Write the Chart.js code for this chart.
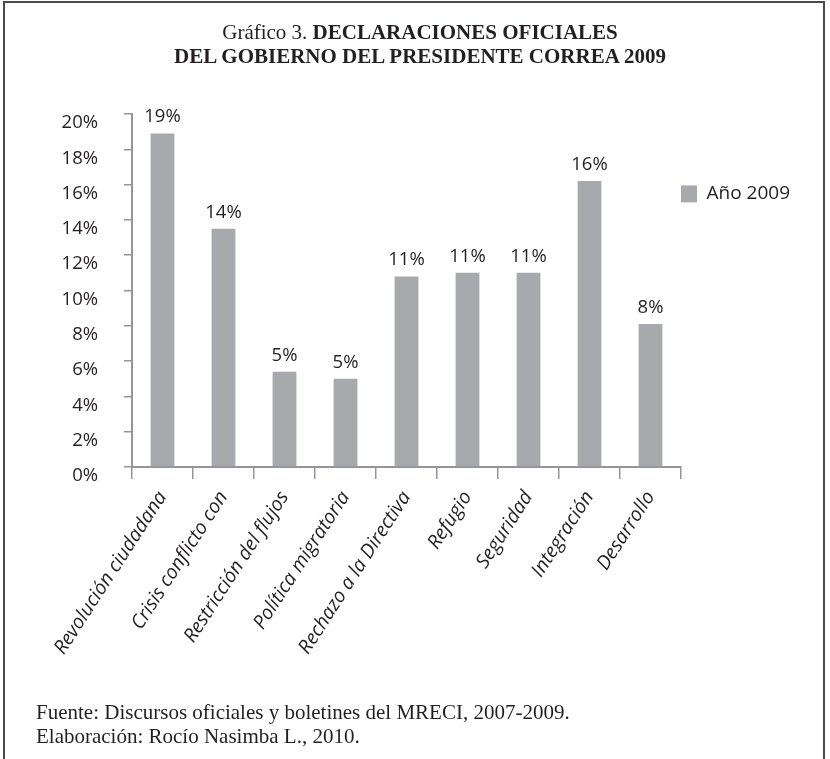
<!DOCTYPE html>
<html>
<head>
<meta charset="utf-8">
<script src="https://cdn.jsdelivr.net/npm/chart.js@4.4.1/dist/chart.umd.min.js"></script>
<style>
  html, body { margin: 0; padding: 0; background: #fff; }
  #wrap { position: relative; width: 830px; height: 759px; overflow: hidden; }
  #frame { position: absolute; left: 3px; top: 1px; width: 822px; height: 800px; border: 2px solid #4a4a4a; box-sizing: border-box; }
  #title { position: absolute; left: 10px; width: 820px; top: 20px; text-align: center; font-family: "Liberation Serif", serif; font-size: 21px; line-height: 24px; color: #231f20; }
  #title b { font-weight: bold; }
  #note { position: absolute; left: 36px; top: 700px; font-family: "Liberation Serif", serif; font-size: 21px; line-height: 24px; color: #231f20; }
  canvas { position: absolute; left: 0; top: 0; }
</style>
</head>
<body>
<div id="wrap">
  <div id="frame"></div>
  <canvas id="chart" width="830" height="759"></canvas>
  <div id="title">Gráfico 3. <b>DECLARACIONES OFICIALES</b><br><b>DEL GOBIERNO DEL PRESIDENTE CORREA 2009</b></div>
  <div id="note">Fuente: Discursos oficiales y boletines del MRECI, 2007-2009.<br>Elaboración: Rocío Nasimba L., 2010.</div>
</div>
<script>
// values (percent)
const categories = ["Revolución ciudadana", "Crisis conflicto con", "Restricción del flujos", "Política migratoria",
  "Rechazo a la Directiva", "Refugio", "Seguridad", "Integración", "Desarrollo"];
const values2009 = [18.9, 13.5, 5.4, 5.0, 10.8, 11.0, 11.0, 16.2, 8.1];
const yTicks = [0, 2, 4, 6, 8, 10, 12, 14, 16, 18, 20];

const BAR = "#a7a9ac", AXIS = "#939598", INK = "#231f20";

// percent labels over each bar
const barLabels = {
  id: "barLabels",
  afterDatasetsDraw(chart) {
    const ctx = chart.ctx;
    ctx.save();
    ctx.font = "18.5px 'Open Sans'"; ctx.fillStyle = INK;
    ctx.textAlign = "center"; ctx.textBaseline = "bottom";
    chart.getDatasetMeta(0).data.forEach((bar, i) => {
      ctx.fillText(Math.round(values2009[i]) + "%", bar.x, bar.y - 7);
    });
    ctx.restore();
  }
};

new Chart(document.getElementById("chart"), {
  type: "bar",
  data: { labels: categories, datasets: [{ label: "Año 2009", data: values2009, backgroundColor: BAR, barPercentage: 0.78, categoryPercentage: 0.5 }] },
  options: {
    responsive: false, animation: false,
    layout: { padding: { top: 114, left: 0, right: 30, bottom: 92 } },
    plugins: {
      tooltip: { enabled: false },
      legend: {
        position: "right", align: "start", fullSize: false,
        title: { display: true, text: "", padding: { top: 56, bottom: 0 } },
        labels: { boxWidth: 16, boxHeight: 17, padding: 0, color: INK, font: { family: "Open Sans", size: 19 } }
      }
    },
    scales: {
      x: {
        afterFit: s => { s.height = 200; },
        grid: { offset: true, drawOnChartArea: false, tickLength: 12, color: AXIS, lineWidth: 1.5 },
        border: { color: AXIS, width: 2 },
        ticks: { autoSkip: false, minRotation: 57, maxRotation: 57, padding: 8, color: INK, font: { family: "Open Sans", size: 19.5, style: "italic" } }
      },
      y: {
        min: 0, max: 20,
        afterFit: s => { s.width = 132; },
        afterBuildTicks: s => { s.ticks = yTicks.map(v => ({ value: v })); },
        grid: { drawOnChartArea: false, tickLength: 8, color: AXIS, lineWidth: 1.5 },
        border: { color: AXIS, width: 2 },
        ticks: { padding: 26, labelOffset: 9, color: INK, font: { family: "Open Sans", size: 18.5 }, callback: v => v + "%" }
      }
    }
  },
  plugins: [barLabels]
});
</script>
</body>
</html>
